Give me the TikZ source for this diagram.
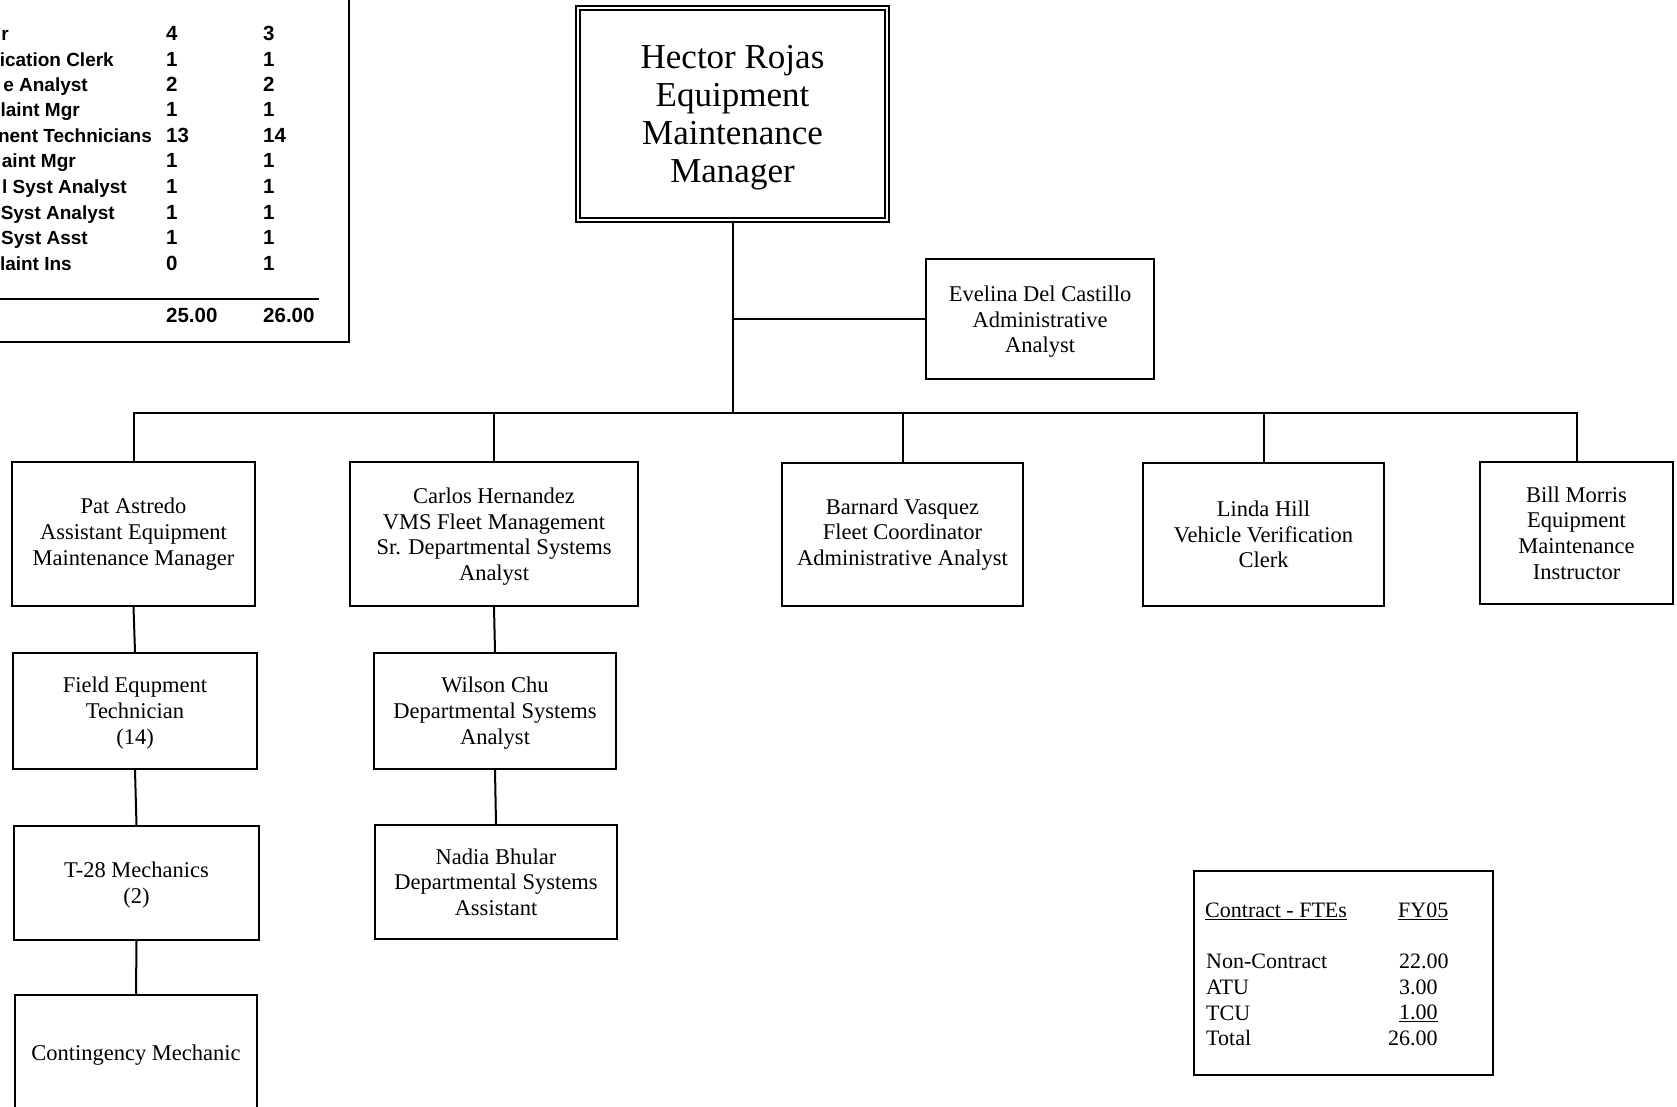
\documentclass[tikz,border=0pt]{standalone}
\usepackage{fontspec}
\setmainfont{Liberation Serif}
\newfontfamily\tablefont{Liberation Sans}
\begin{document}
\begin{tikzpicture}[x=1pt,y=-1pt,
  box/.style={draw,line width=2pt,align=center,inner sep=0pt,
    font=\fontsize{22.5}{25.7}\selectfont},
  tcell/.style={inner sep=0pt,anchor=base east,font=\tablefont\bfseries\fontsize{19}{21}\selectfont},
  tnum/.style={inner sep=0pt,anchor=base west,font=\tablefont\bfseries\fontsize{20.5}{22}\selectfont},
  ccell/.style={inner sep=0pt,anchor=west,font=\fontsize{22}{25}\selectfont},
  conn/.style={line width=2pt}]
\useasboundingbox (0,0) rectangle (1677,1106);

% ---- top-left table (cut off) ----
\draw[line width=1.6pt] (0,342) -- (349,342) -- (349,0);
\draw[line width=1.4pt] (0,299) -- (319,299);
\foreach \t/\e/\a/\b/\y in {r/9/4/3/33, ication Clerk/114/1/1/59, e Analyst/88/2/2/84,
  laint Mgr/80/1/1/109, nent Technicians/152/13/14/135, aint Mgr/76/1/1/160,
  l Syst Analyst/127/1/1/186, Syst Analyst/115/1/1/212, Syst Asst/88/1/1/237,
  laint Ins/72/0/1/263}{
  \node[tcell] (tl\y) at (\e,\y+7.5) {\t};
  \node[tnum] (ta\y) at (166,\y+7.5) {\a};
  \node[tnum] (tb\y) at (263,\y+7.5) {\b};
}
\node[tnum] (tot1) at (166,322.5) {25.00};
\node[tnum] (tot2) at (263,322.5) {26.00};

% ---- boxes ----
\node[draw,double,double distance=2.5pt,line width=1.5pt,align=center,inner sep=0pt,
  minimum width=309pt,minimum height=212pt,
  font=\fontsize{35}{38}\selectfont] (hector) at (732.5,114)
  {\rule{0pt}{31pt}Hector Rojas\\Equipment\\Maintenance\\Manager};
\node[box,minimum width=228pt,minimum height=120pt] (eve) at (1040,319)
  {\rule{0pt}{21pt}Evelina Del Castillo\\Administrative\\Analyst};
\node[box,minimum width=243pt,minimum height=144pt] (pat) at (133.5,534)
  {Pat Astredo\\Assistant Equipment\\Maintenance Manager};
\node[box,minimum width=288pt,minimum height=144pt] (carlos) at (494,534)
  {\rule{0pt}{21pt}Carlos Hernandez\\VMS Fleet Management\\Sr. Departmental Systems\\Analyst};
\node[box,minimum width=241pt,minimum height=143pt] (barnard) at (902.5,534.5)
  {Barnard Vasquez\\Fleet Coordinator\\Administrative Analyst};
\node[box,minimum width=241pt,minimum height=143pt] (linda) at (1263.5,534.5)
  {Linda Hill\\Vehicle Verification\\Clerk};
\node[box,minimum width=193pt,minimum height=142pt] (bill) at (1576.5,533)
  {Bill Morris\\Equipment\\Maintenance\\Instructor};
\node[box,minimum width=244pt,minimum height=116pt] (field) at (135,711)
  {\rule{0pt}{20pt}Field Equpment\\Technician\\(14)};
\node[box,minimum width=242pt,minimum height=116pt] (wilson) at (495,711)
  {\rule{0pt}{20pt}Wilson Chu\\Departmental Systems\\Analyst};
\node[box,minimum width=245pt,minimum height=114pt] (t28) at (136.5,883)
  {\rule{0pt}{20pt}T-28 Mechanics\\(2)};
\node[box,minimum width=242pt,minimum height=114pt] (nadia) at (496,882)
  {Nadia Bhular\\Departmental Systems\\Assistant};
\node[box,minimum width=242pt,minimum height=113pt] (cont) at (136,1051.5)
  {\rule{0pt}{22pt}Contingency Mechanic};

% ---- contract box ----
\node[draw,line width=2pt,minimum width=299pt,minimum height=204pt,inner sep=0pt] (contract) at (1343.5,973) {};
\node[ccell] (ch1) at (1205,911) {\underline{Contract - FTEs}};
\node[ccell] (ch2) at (1398,911) {\underline{FY05}};
\node[ccell] (cl1) at (1206,961) {Non-Contract};
\node[ccell] (cv1) at (1399,961) {22.00};
\node[ccell] (cl2) at (1206,987) {ATU};
\node[ccell] (cv2) at (1399,987) {3.00};
\node[ccell] (cl3) at (1206,1013) {TCU};
\node[ccell] (cv3) at (1399,1013) {\underline{1.00}};
\node[ccell] (cl4) at (1206,1038) {Total};
\node[ccell] (cv4) at (1388,1038) {26.00};

% ---- connectors ----
\coordinate (bus) at (732.5,413);
\draw[conn] (hector.south) -- (bus);
\draw[conn] (eve.west) -- (eve.west -| hector.south);
\draw[conn] (pat.north) |- (bus) -| (bill.north);
\draw[conn] (carlos.north) -- (carlos.north |- bus);
\draw[conn] (barnard.north) -- (barnard.north |- bus);
\draw[conn] (linda.north) -- (linda.north |- bus);
\draw[conn] (pat.south) -- (field.north);
\draw[conn] (field.south) -- (t28.north);
\draw[conn] (t28.south) -- (cont.north);
\draw[conn] (carlos.south) -- (wilson.north);
\draw[conn] (wilson.south) -- (nadia.north);
\end{tikzpicture}
\end{document}
